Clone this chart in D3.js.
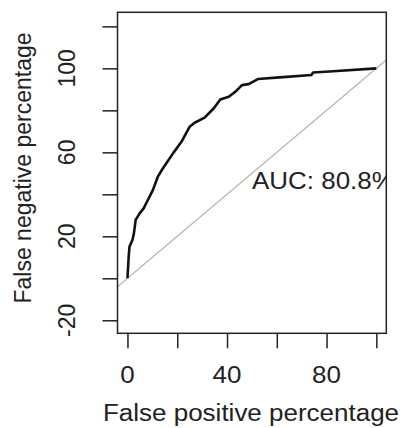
<!DOCTYPE html>
<html>
<head>
<meta charset="utf-8">
<script src="https://cdn.jsdelivr.net/npm/d3@7"></script>
<style>
  body { margin: 0; background: #fff; }
  text { font-family: "Liberation Sans", Arial, sans-serif; fill: #222; }
</style>
</head>
<body>
<div id="chart"></div>
<script>
// ROC curve points (percentages)
const fpPct = [0, 0.5, 0.8, 2, 2.6, 3.3, 4.9, 6.5, 8.2, 10.2, 12.2, 14.2, 18.3, 21.7, 25, 27, 31, 34.7, 37.3, 40.7, 43.4, 46, 48.7, 52.4, 61.2, 73.9, 74.6, 82.6, 100];
const tpPct = [0, 10.3, 15, 18.2, 21.4, 27.8, 30.9, 33.3, 37.3, 42, 48.4, 52.3, 59.5, 65, 72.2, 74.1, 76.5, 81, 85.2, 86.5, 88.9, 92, 92.5, 94.9, 95.7, 96.8, 98, 98.6, 100];
const xTicks = [0, 20, 40, 60, 80, 100];
const xLabels = [0, 40, 80];
const yTicks = [-20, 0, 20, 40, 60, 80, 100, 120];
const yLabels = [-20, 20, 60, 100];
const aucText = "AUC: 80.8%";

const width = 403, height = 428;
const stretch = 1.13; // picture is a bit wider than tall
const fs = 23;

const svg = d3.select('#chart').append('svg')
  .attr('width', width)
  .attr('height', height);

const x = d3.scaleLinear().domain([-4, 104]).range([117.5, 386.3]);
const y = d3.scaleLinear().domain([-26.2, 126.7]).range([333.3, 12.3]);

svg.append('clipPath').attr('id', 'plotclip')
  .append('rect')
  .attr('x', x.range()[0]).attr('y', y.range()[1])
  .attr('width', x.range()[1] - x.range()[0])
  .attr('height', y.range()[0] - y.range()[1]);

const plot = svg.append('g').attr('clip-path', 'url(#plotclip)');

// chance diagonal
plot.append('line')
  .attr('x1', x(-10)).attr('y1', y(-10))
  .attr('x2', x(110)).attr('y2', y(110))
  .attr('stroke', '#b8b8b8')
  .attr('stroke-width', 1.5);

// roc curve
const line = d3.line()
  .x((d, i) => x(fpPct[i]))
  .y((d, i) => y(tpPct[i]));

plot.append('path')
  .datum(fpPct)
  .attr('d', line)
  .attr('fill', 'none')
  .attr('stroke', '#111')
  .attr('stroke-width', 2.6)
  .attr('stroke-linejoin', 'round');

// AUC label, clipped at the box like the original
plot.append('text')
  .attr('transform', `translate(${x(50)},${y(42.5)}) scale(${stretch},1)`)
  .attr('font-size', fs)
  .text(aucText);

// box
svg.append('rect')
  .attr('x', x.range()[0]).attr('y', y.range()[1])
  .attr('width', x.range()[1] - x.range()[0])
  .attr('height', y.range()[0] - y.range()[1])
  .attr('fill', 'none')
  .attr('stroke', '#222')
  .attr('stroke-width', 1.5);

// x axis
const xAxis = d3.axisBottom(x)
  .tickValues(xTicks)
  .tickSize(15)
  .tickFormat('');

const gx = svg.append('g')
  .attr('transform', `translate(0,${y.range()[0]})`)
  .call(xAxis);
gx.select('.domain').remove();
gx.selectAll('line').attr('stroke', '#222').attr('stroke-width', 1.5);

svg.selectAll('.xlab')
  .data(xLabels)
  .enter()
  .append('text')
  .attr('class', 'xlab')
  .attr('transform', d => `translate(${x(d)},383) scale(${stretch},1)`)
  .attr('text-anchor', 'middle')
  .attr('font-size', fs)
  .text(d => d);

// y axis
const yAxis = d3.axisLeft(y)
  .tickValues(yTicks)
  .tickSize(15)
  .tickFormat('');

const gy = svg.append('g')
  .attr('transform', `translate(${x.range()[0]},0)`)
  .call(yAxis);
gy.select('.domain').remove();
gy.selectAll('line').attr('stroke', '#222').attr('stroke-width', 1.5);

svg.selectAll('.ylab')
  .data(yLabels)
  .enter()
  .append('text')
  .attr('class', 'ylab')
  .attr('transform', d => `translate(75,${y(d)}) rotate(-90)`)
  .attr('text-anchor', 'middle')
  .attr('font-size', fs)
  .text(d => d);

// axis titles
svg.append('text')
  .attr('transform', `translate(251,421) scale(${stretch},1)`)
  .attr('text-anchor', 'middle')
  .attr('font-size', fs)
  .text('False positive percentage');

svg.append('text')
  .attr('transform', 'translate(31,168) rotate(-90)')
  .attr('text-anchor', 'middle')
  .attr('font-size', fs)
  .text('False negative percentage');
</script>
</body>
</html>
